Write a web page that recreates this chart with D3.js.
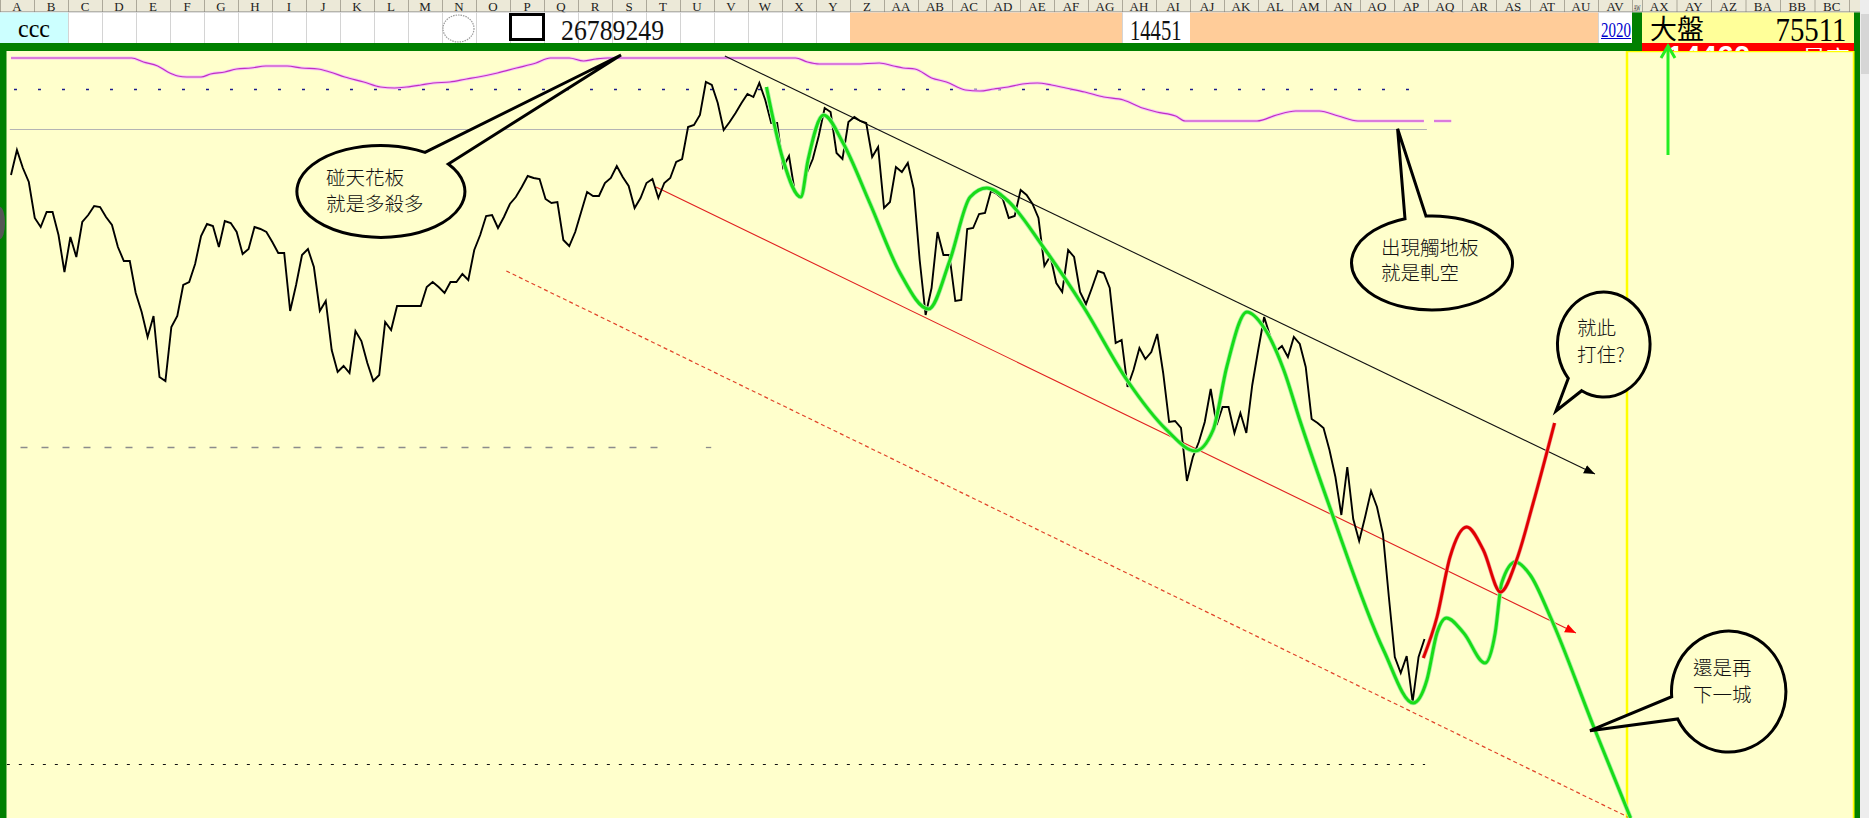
<!DOCTYPE html>
<html><head><meta charset="utf-8">
<script src="https://cdn.jsdelivr.net/npm/d3@7/dist/d3.min.js"></script>
<style>html,body{margin:0;padding:0;background:#fff;overflow:hidden}</style>
</head><body><svg id="c" width="1869" height="818" xmlns="http://www.w3.org/2000/svg"></svg>
<script>
// ---------------- DATA ----------------
// daily index level (chart units), one value per trading day
const price = [643,668,650,636,600,591,606,606,583,546,581,561,596,603,612,611,601,593,571,557,
557,525,506,481,502,441,437,491,502,533,536,554,582,594,592,571,597,595,586,564,
569,591,589,586,576,565,565,507,533,563,569,551,507,517,468,446,452,445,487,477,
455,437,443,496,488,512,512,512,512,512,531,536,531,525,536,536,544,538,568,583,
602,603,590,601,614,621,631,642,640,639,619,615,616,578,572,586,606,626,622,622,
635,640,652,641,632,610,620,635,639,620,635,640,656,659,691,693,703,736,733,715,
688,696,705,715,724,721,735,718,695,695,651,662,625,621,645,659,682,710,706,665,
659,696,701,697,695,661,671,610,616,651,646,655,629,558,503,530,586,563,563,517,
518,589,590,604,605,627,624,619,600,602,628,623,614,600,552,562,535,526,568,561,
526,514,530,547,545,530,475,478,431,448,470,459,466,484,445,396,397,390,337,361,
376,396,429,393,411,411,385,405,385,433,468,501,482,467,472,461,481,474,451,399,
395,390,368,341,303,351,299,277,301,327,311,284,221,161,145,162,116,161,179];

// smoothed indicator (purple), positions in trading-day index
const purpleIdx = [0,20.3,22.3,24.7,26.4,28.1,29.6,32,33.6,36,38,40.4,42.9,46.5,48.9,51.7,53.7,56.2,59.4,62.2,64.6,66.6,69,71.1,73.9,76.7,78.7,81.9,85.1,88.4,90.8,94,96.4,98.5,100.5,
124.4,132.1,134.1,136.1,142.2,146.2,148.6,150.2,152.2,155,157.5,160.7,163.1,165.5,167.9,170.3,172.8,175.2,177.6,180.8,184,187.3,190.5,192.9,196.1,197.7,209.8,213.1,216.3,220.3,223.5,226.8,237.9];
const purpleVal = [760,760,756,752,746,742,741,741,744,746,749,750,752,752,750,749,746,741,736,731,730,731,733,735,736,739,741,745,750,755,760,760,757,759,760,
760,760,756,754,754,755,752,750,749,740,736,728,727,729,731,734,735,733,730,726,721,718,710,706,702,697,697,703,707,707,702,697,697];
const purpleTailIdx = [239.6, 242.5];
const purpleTailVal = [697, 697];

// projected path A (green)
const greenIdx = [127.2,130.0,133.0,134.2,136.8,140.1,144.6,149.7,154.5,158.1,161.5,164.3,167.7,173.8,180.6,187.9,194.6,199.4,202.4,204.7,
208.1,210.9,214.3,217.0,222.4,231.1,236.1,238.4,240.1,241.7,244.6,248.2,249.9,251.0,253.3,255.8,259.2,266.5,272.7];
const greenVal = [731,658,621,658,703,675,615,545,509,558,621,630,618,571,511,438,388,367,388,451,
506,491,448,398,305,168,115,138,185,200,185,155,185,235,256,243,201,91,0];

// projected path B (red)
const redIdx = [237.8,240.1,242.3,245.1,247.9,250.8,253.5,256.3,259.9];
const redVal = [160,201,261,291,268,226,258,315,395];

// channel lines: upper (black), middle (red), lower (red dashed)
const trendStartIdx = [120.2, 108.6, 83.4];
const trendStartVal = [762, 631, 547];
const trendEndIdx = [266.7, 263.5, 272.6];
const trendEndVal = [344, 185, 0];

// horizontal reference levels: blue dotted, grey solid, grey dashed, black dotted
const levelVal = [729, 689, 371, 54];
const levelStartIdx = [0.5, -0.2, 1.6, -0.7];
const levelEndIdx = [236.9, 238.4, 110.8, 238.1];

// header texts
const headerTexts = ["ccc", "26789249", "14451", "2020", "大盤", "75511"];
const redBarTexts = ["14460", "量高"];
const noteA = ["碰天花板", "就是多殺多"];
const noteB = ["出現觸地板", "就是軋空"];
const noteC = ["就此", "打住?"];
const noteD = ["還是再", "下一城"];

// ---------------- DRAW ----------------
const W = 1869, H = 818;
const svg = d3.select("#c");
const BG = "#FFFFCC";

const x = d3.scaleLinear().domain([0, 238]).range([11, 1424.5]);
const y = d3.scaleLinear().domain([0, 767]).range([818, 51]);

const defs = svg.append("defs");
defs.append("clipPath").attr("id", "plot").append("rect")
  .attr("x", 6.5).attr("y", 51).attr("width", 1848).attr("height", 767);
function arrowMarker(id, color) {
  defs.append("marker").attr("id", id).attr("viewBox", "0 -6 12 12")
    .attr("markerUnits", "userSpaceOnUse").attr("markerWidth", 12).attr("markerHeight", 12)
    .attr("refX", 11).attr("refY", 0).attr("orient", "auto")
    .append("path").attr("d", "M0,-4.5L11,0L0,4.5Z").attr("fill", color);
}
arrowMarker("arrBlack", "#000");
arrowMarker("arrRed", "#ff0000");

// background frame
svg.append("rect").attr("x", 0).attr("y", 0).attr("width", W).attr("height", H).attr("fill", "#fff");
svg.append("rect").attr("x", 0).attr("y", 51).attr("width", 1856).attr("height", 767).attr("fill", BG);

// ---- header row with column letters ----
function colName(i) { let s = "", n = i + 1; while (n > 0) { const m = (n - 1) % 26; s = String.fromCharCode(65 + m) + s; n = Math.floor((n - 1) / 26); } return s; }
const cols = [];
for (let i = 0; i < 55; i++) {
  let left, w;
  if (i < 48) { left = i * 34; w = 34; }
  else if (i === 48) { left = 1632; w = 10; }
  else { left = 1642 + (i - 49) * 34.5; w = 34.5; }
  cols.push({ i, left, w, name: colName(i) });
}
const hdr = svg.append("g");
hdr.append("rect").attr("x", 0).attr("y", 0).attr("width", W).attr("height", 12).attr("fill", "#ECE9D8");
cols.forEach(c => {
  const narrow = c.w < 20;
  hdr.append("text").attr("x", c.left + c.w / 2).attr("y", 10.5)
    .attr("text-anchor", "middle").attr("font-family", "Liberation Serif, serif").attr("font-size", narrow ? 8 : 13)
    .attr("textLength", narrow ? 7 : null).attr("lengthAdjust", "spacingAndGlyphs")
    .attr("fill", "#222").text(c.name);
  hdr.append("line").attr("x1", c.left + 0.5).attr("x2", c.left + 0.5).attr("y1", 0).attr("y2", 12).attr("stroke", "#ACA899");
});
hdr.append("line").attr("x1", 1849.5).attr("x2", 1849.5).attr("y1", 0).attr("y2", 12).attr("stroke", "#ACA899");
hdr.append("line").attr("x1", 0).attr("x2", W).attr("y1", 12).attr("y2", 12).attr("stroke", "#808080");

// ---- row 2 cells ----
const row = svg.append("g");
row.append("rect").attr("x", 0).attr("y", 12.5).attr("width", 1632).attr("height", 31).attr("fill", "#fff");
cols.filter(c => c.i < 48).forEach(c => {
  row.append("line").attr("x1", c.left + 0.5).attr("x2", c.left + 0.5).attr("y1", 12.5).attr("y2", 43).attr("stroke", "#D4D4D4");
});
row.append("rect").attr("x", 0).attr("y", 12.5).attr("width", 68).attr("height", 31).attr("fill", "#CCFFFF");
row.append("rect").attr("x", 850).attr("y", 12.5).attr("width", 272).attr("height", 31).attr("fill", "#FFCC99");
row.append("rect").attr("x", 1190).attr("y", 12.5).attr("width", 408).attr("height", 31).attr("fill", "#FFCC99");
row.append("rect").attr("x", 1123).attr("y", 12.5).attr("width", 67).attr("height", 31).attr("fill", "#fff");
// circle and square shapes
row.append("ellipse").attr("cx", 458.5).attr("cy", 28.5).attr("rx", 15.5).attr("ry", 13.5)
  .attr("fill", "none").attr("stroke", "#9a9a9a").attr("stroke-width", 1.2).attr("stroke-dasharray", "1.5,1");
row.append("rect").attr("x", 510.5).attr("y", 14.5).attr("width", 33).attr("height", 25)
  .attr("fill", "none").attr("stroke", "#000").attr("stroke-width", 3);
const serif = "Liberation Serif, Times New Roman, serif";
row.append("text").attr("x", 18).attr("y", 37).attr("font-family", serif).attr("font-size", 26)
  .attr("textLength", 32).attr("lengthAdjust", "spacingAndGlyphs").text(headerTexts[0]);
row.append("text").attr("x", 561).attr("y", 40).attr("font-family", serif).attr("font-size", 30)
  .attr("textLength", 103).attr("lengthAdjust", "spacingAndGlyphs").attr("fill", "#111").text(headerTexts[1]);
row.append("text").attr("x", 1130).attr("y", 39.5).attr("font-family", serif).attr("font-size", 29)
  .attr("textLength", 51.5).attr("lengthAdjust", "spacingAndGlyphs").attr("fill", "#111").text(headerTexts[2]);
row.append("text").attr("x", 1601).attr("y", 36.5).attr("font-family", serif).attr("font-size", 22)
  .attr("textLength", 30).attr("lengthAdjust", "spacingAndGlyphs").attr("fill", "#0000CC").text(headerTexts[3]);
row.append("line").attr("x1", 1601).attr("x2", 1631).attr("y1", 38.5).attr("y2", 38.5).attr("stroke", "#0000CC").attr("stroke-width", 1);

// green frame
svg.append("rect").attr("x", 0).attr("y", 43).attr("width", 1642).attr("height", 8).attr("fill", "#008000");
svg.append("rect").attr("x", 0).attr("y", 43).attr("width", 6.5).attr("height", 775).attr("fill", "#008000");
svg.append("rect").attr("x", 1632).attr("y", 12.5).attr("width", 10).attr("height", 38.5).attr("fill", "#008000");
svg.append("rect").attr("x", 1854).attr("y", 12.5).attr("width", 6).attr("height", 805.5).attr("fill", "#008000");
svg.append("ellipse").attr("cx", 0).attr("cy", 223).attr("rx", 5).attr("ry", 16).attr("fill", "#555");
// top-right panel
svg.append("rect").attr("x", 1642).attr("y", 12.5).attr("width", 212).attr("height", 30.5).attr("fill", "#FFFF99");
svg.append("rect").attr("x", 1642).attr("y", 43).attr("width", 212).attr("height", 8).attr("fill", "#FF0000");
defs.append("clipPath").attr("id", "redbar").append("rect").attr("x", 1642).attr("y", 43).attr("width", 212).attr("height", 8);
const rb = svg.append("g").attr("clip-path", "url(#redbar)");
rb.append("text").attr("x", 1667).attr("y", 66).attr("font-family", "Liberation Sans, sans-serif").attr("font-weight", "bold")
  .attr("font-size", 30).attr("fill", "#fff").text(redBarTexts[0]);
rb.append("text").attr("x", 1802).attr("y", 68).attr("font-family", "Noto Sans CJK TC").attr("font-size", 24).attr("fill", "#fff").text(redBarTexts[1]);
svg.append("text").attr("x", 1650).attr("y", 38.5).attr("font-family", "Noto Sans CJK TC, sans-serif").attr("font-size", 27)
  .attr("fill", "#000").text(headerTexts[4]);
svg.append("text").attr("x", 1775.5).attr("y", 41).attr("font-family", serif).attr("font-size", 33)
  .attr("textLength", 71).attr("lengthAdjust", "spacingAndGlyphs").attr("fill", "#000").text(headerTexts[5]);
// scrollbar strip
svg.append("rect").attr("x", 1860).attr("y", 0).attr("width", 9).attr("height", H).attr("fill", "#EDEDED");
svg.append("rect").attr("x", 1861).attr("y", 14).attr("width", 8).attr("height", 60).attr("fill", "#D6D6D6");

// ---- plot ----
const plot = svg.append("g").attr("clip-path", "url(#plot)");

// yellow side panel outline
plot.append("rect").attr("x", 1627).attr("y", 51).attr("width", 227).attr("height", 790)
  .attr("fill", "none").attr("stroke", "#FFFF00").attr("stroke-width", 2.5);

// reference levels
const levelStyles = [
  { stroke: "#1a1a8c", w: 1.3, dash: "3,21" },
  { stroke: "#b4b4b4", w: 1, dash: null },
  { stroke: "#8c8c8c", w: 1.3, dash: "7,14" },
  { stroke: "#111", w: 1.2, dash: "3,9" }
];
levelVal.forEach((v, k) => {
  const s = levelStyles[k];
  plot.append("line").attr("x1", x(levelStartIdx[k])).attr("x2", x(levelEndIdx[k]))
    .attr("y1", Math.round(y(v)) + 0.5).attr("y2", Math.round(y(v)) + 0.5)
    .attr("stroke", s.stroke).attr("stroke-width", s.w).attr("stroke-dasharray", s.dash);
});
// isolated dash after the grey dashed level
plot.append("line").attr("x1", x(117.0)).attr("x2", x(117.9)).attr("y1", Math.round(y(levelVal[2])) + 0.5).attr("y2", Math.round(y(levelVal[2])) + 0.5)
  .attr("stroke", "#8c8c8c").attr("stroke-width", 1.3);

// purple indicator
const pLine = d3.line().x(d => x(d[0])).y(d => y(d[1])).curve(d3.curveMonotoneX);
const pData = purpleIdx.map((d, i) => [d, purpleVal[i]]);
const pTail = purpleTailIdx.map((d, i) => [d, purpleTailVal[i]]);
[pData, pTail].forEach(dd => {
  plot.append("path").attr("d", pLine(dd)).attr("fill", "none").attr("stroke", "#f6c6f6").attr("stroke-width", 3);
  plot.append("path").attr("d", pLine(dd)).attr("fill", "none").attr("stroke", "#c030c0").attr("stroke-width", 1.2);
});

// channel lines
const trendStyles = [
  { stroke: "#111", w: 1.1, dash: null, marker: "url(#arrBlack)" },
  { stroke: "#e02020", w: 1.1, dash: null, marker: "url(#arrRed)" },
  { stroke: "#e0442a", w: 1.2, dash: "4,3", marker: null }
];
trendStartIdx.forEach((s, k) => {
  const st = trendStyles[k];
  plot.append("line").attr("x1", x(s)).attr("y1", y(trendStartVal[k])).attr("x2", x(trendEndIdx[k])).attr("y2", y(trendEndVal[k]))
    .attr("stroke", st.stroke).attr("stroke-width", st.w).attr("stroke-dasharray", st.dash).attr("marker-end", st.marker);
});

// price
const line = d3.line().x((d, i) => x(i)).y(d => y(d));
plot.append("path").attr("d", line(price)).attr("fill", "none").attr("stroke", "#000")
  .attr("stroke-width", 1.9).attr("stroke-linejoin", "miter");

// projected paths
const cLine = d3.line().x(d => x(d[0])).y(d => y(d[1])).curve(d3.curveMonotoneX);
const gData = greenIdx.map((d, i) => [d, greenVal[i]]);
const rData = redIdx.map((d, i) => [d, redVal[i]]);
plot.append("path").attr("d", cLine(gData)).attr("fill", "none").attr("stroke", "#a8f0a0").attr("stroke-width", 4.6);
plot.append("path").attr("d", cLine(gData)).attr("fill", "none").attr("stroke", "#18dc18").attr("stroke-width", 3);
plot.append("path").attr("d", cLine(rData)).attr("fill", "none").attr("stroke", "#f09090").attr("stroke-width", 4);
plot.append("path").attr("d", cLine(rData)).attr("fill", "none").attr("stroke", "#e00000").attr("stroke-width", 2.8);

// ---- callouts ----
function bubble(cx, cy, rx, ry, a, b, tip) {
  return `M${a[0]},${a[1]} A${rx},${ry} 0 1 1 ${b[0]},${b[1]} L${tip[0]},${tip[1]} Z`;
}
const ann = svg.append("g");
const bubbles = [
  { d: bubble(379, 191, 84, 46, [448.3, 164], [425, 152.3], [621, 55]), text: noteA, tx: 326, ty: [184.5, 210.5] },
  { d: bubble(1431.5, 263, 80.5, 47, [1426, 216.1], [1405, 218.7], [1397.6, 128.8]), text: noteB, tx: 1381, ty: [255, 280] },
  { d: bubble(1603.7, 345.8, 46.3, 52.5, [1568.3, 378.3], [1581.7, 390.7], [1556, 411]), text: noteC, tx: 1577, ty: [335, 362] },
  { d: bubble(1728.8, 692.8, 57.2, 60.5, [1671.7, 696.7], [1677.7, 719], [1590, 730.7]), text: noteD, tx: 1693, ty: [675, 702] }
];
bubbles.forEach(b => {
  ann.append("path").attr("d", b.d).attr("fill", BG).attr("stroke", "#000").attr("stroke-width", 3).attr("stroke-linejoin", "miter");
  b.text.forEach((t, k) => {
    ann.append("text").attr("x", b.tx).attr("y", b.ty[k]).attr("font-family", "Noto Sans CJK TC, sans-serif")
      .attr("font-size", 19.5).attr("font-weight", 300).attr("fill", "#111").text(t);
  });
});

// green pointer arrow on the right panel
ann.append("line").attr("x1", 1668).attr("x2", 1668).attr("y1", 155).attr("y2", 47).attr("stroke", "#22ee22").attr("stroke-width", 3);
ann.append("path").attr("d", "M1661,58 L1668,46 L1675,58").attr("fill", "none").attr("stroke", "#22ee22").attr("stroke-width", 3);
</script>
</body></html>
